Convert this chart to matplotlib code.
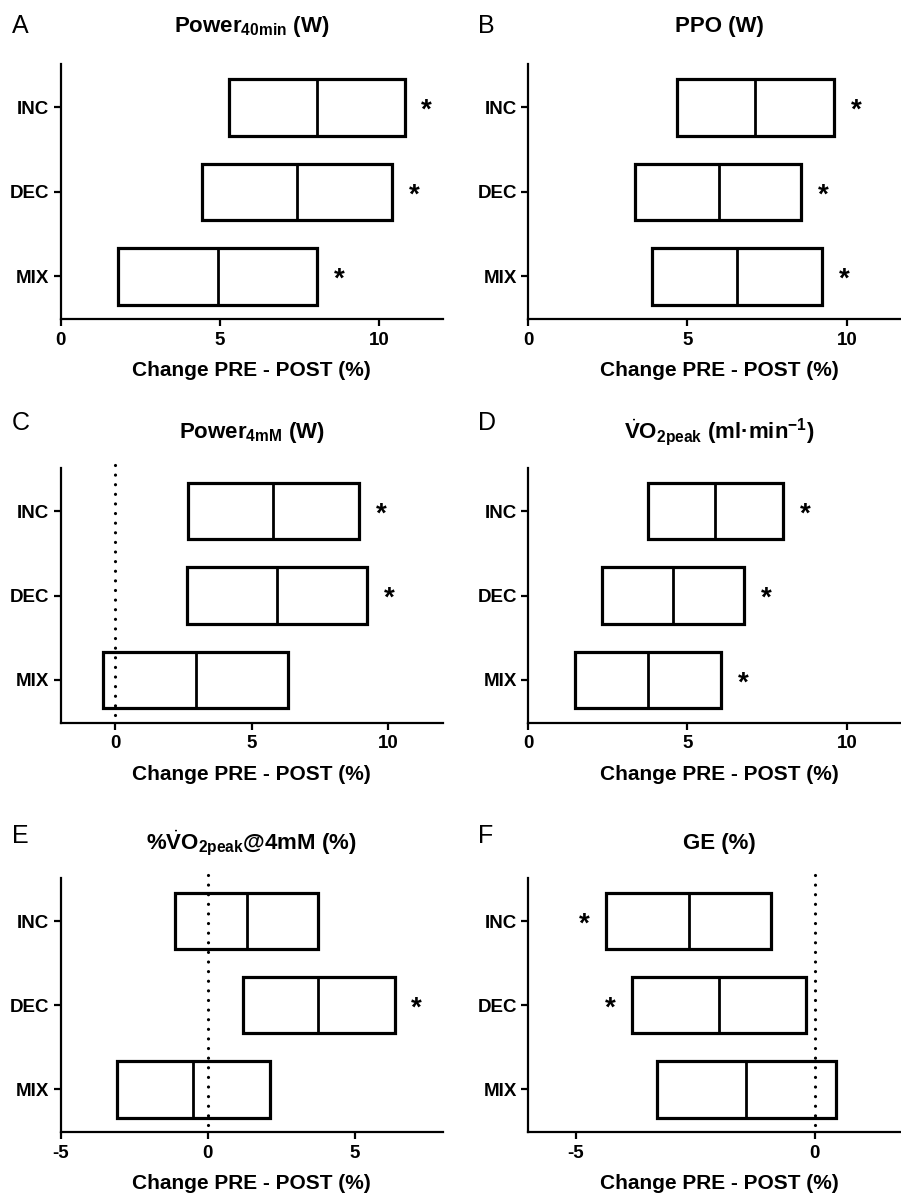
import numpy as np
import matplotlib
matplotlib.use('Agg')
import matplotlib.pyplot as plt

plt.rcParams['font.family'] = ['Liberation Sans', 'DejaVu Sans']
plt.rcParams['mathtext.fontset'] = 'custom'
plt.rcParams['mathtext.rm'] = 'Liberation Sans'
plt.rcParams['mathtext.bf'] = 'Liberation Sans:bold'
plt.rcParams['mathtext.it'] = 'Liberation Sans:italic'
plt.rcParams['axes.unicode_minus'] = False

# groups, top to bottom
groups = ['INC', 'DEC', 'MIX']

# change PRE - POST (%): lower edge, median, upper edge of each box
a_low = [5.27, 4.43, 1.80]
a_med = [8.03, 7.41, 4.93]
a_high = [10.79, 10.41, 8.04]
a_sig = [True, True, True]

b_low = [4.67, 3.37, 3.90]
b_med = [7.13, 5.98, 6.56]
b_high = [9.59, 8.56, 9.21]
b_sig = [True, True, True]

c_low = [2.68, 2.61, -0.44]
c_med = [5.77, 5.92, 2.94]
c_high = [8.91, 9.22, 6.32]
c_sig = [True, True, False]

d_low = [3.76, 2.31, 1.47]
d_med = [5.86, 4.54, 3.77]
d_high = [8.00, 6.78, 6.06]
d_sig = [True, True, True]

e_low = [-1.10, 1.20, -3.09]
e_med = [1.32, 3.75, -0.50]
e_high = [3.74, 6.35, 2.12]
e_sig = [False, True, False]

f_low = [-4.36, -3.82, -3.30]
f_med = [-2.64, -2.00, -1.44]
f_high = [-0.91, -0.18, 0.45]
f_sig = [True, True, False]

titles = [r'Power$_{\mathbf{40min}}$ (W)',
          'PPO (W)',
          r'Power$_{\mathbf{4mM}}$ (W)',
          r'$\dot{\mathbf{V}}\mathbf{O}_{\mathbf{2peak}}$ (ml·min$^{\mathbf{-1}}$)',
          r'%$\dot{\mathbf{V}}\mathbf{O}_{\mathbf{2peak}}$@4mM (%)',
          'GE (%)']
letters = ['A', 'B', 'C', 'D', 'E', 'F']
xlims = [(0, 12), (0, 12), (-2, 12), (0, 12), (-5, 8), (-6, 2)]
xticks = [[0, 5, 10], [0, 5, 10], [0, 5, 10], [0, 5, 10], [-5, 0, 5], [-5, 0]]
zero_line = [False, False, True, False, True, True]

panels = [(a_low, a_med, a_high, a_sig), (b_low, b_med, b_high, b_sig),
          (c_low, c_med, c_high, c_sig), (d_low, d_med, d_high, d_sig),
          (e_low, e_med, e_high, e_sig), (f_low, f_med, f_high, f_sig)]

W, H = 901, 1199
fig = plt.figure(figsize=(W / 100, H / 100), dpi=100)

lefts = [60.6, 528.0]
bottoms = [319.5, 722.7, 1132.3]
tops = [64.3, 468.3, 878.3]
title_pad = [23.5, 21.5, 21.0]
letter_base = [32.7, 430.0, 842.7]
letter_x = [11.7, 478.3]
ax_w = 382.5

ypos = np.array([2, 1, 0])
box_h = 0.67

for i, (low, med, high, sig) in enumerate(panels):
    r, c = divmod(i, 2)
    h = bottoms[r] - tops[r]
    ax = fig.add_axes([lefts[c] / W, 1 - bottoms[r] / H, ax_w / W, h / H])

    low = np.array(low)
    med = np.array(med)
    high = np.array(high)
    ax.barh(ypos, high - low, left=low, height=box_h, facecolor='none',
            edgecolor='black', linewidth=2.3, zorder=3)
    ax.vlines(med, ypos - box_h / 2, ypos + box_h / 2, color='black',
              linewidth=2.0, zorder=3)

    if zero_line[i]:
        ax.plot([0, 0], [-0.42, 2.58], color='black', linewidth=2.3,
                linestyle=(0, (0.01, 3.0)), dash_capstyle='round',
                clip_on=False, zorder=2)

    for y, lo, hi, m, s in zip(ypos, low, high, med, sig):
        if not s:
            continue
        if m >= 0:
            ax.annotate('*', xy=(hi, y), xytext=(16, -2.5), textcoords='offset points',
                        ha='center', va='center', fontsize=20, fontweight='bold')
        else:
            ax.annotate('*', xy=(lo, y), xytext=(-16, -2.5), textcoords='offset points',
                        ha='center', va='center', fontsize=20, fontweight='bold')

    ax.set_xlim(*xlims[i])
    ax.set_ylim(-0.51, 2.51)
    ax.set_yticks(ypos)
    ax.set_yticklabels(groups)
    ax.set_xticks(xticks[i])
    for sp in ['top', 'right']:
        ax.spines[sp].set_visible(False)
    for sp in ['left', 'bottom']:
        ax.spines[sp].set_linewidth(1.6)
    ax.tick_params(axis='both', width=1.6, length=5, labelsize=13.5, pad=3)
    ax.tick_params(axis='x', pad=4)
    for lab in ax.get_xticklabels() + ax.get_yticklabels():
        lab.set_fontweight('bold')
    ax.set_xlabel('Change PRE - POST (%)', fontsize=15, fontweight='bold', labelpad=9)

    ax.annotate(titles[i], xy=(0.5, 1), xycoords='axes fraction',
                xytext=(0, title_pad[r]), textcoords='offset points',
                ha='center', va='baseline', fontsize=16, fontweight='bold')
    fig.text(letter_x[c] / W, 1 - letter_base[r] / H, letters[i],
             fontsize=18, ha='left', va='baseline')

fig.savefig('out.png', dpi=100, facecolor='white')
